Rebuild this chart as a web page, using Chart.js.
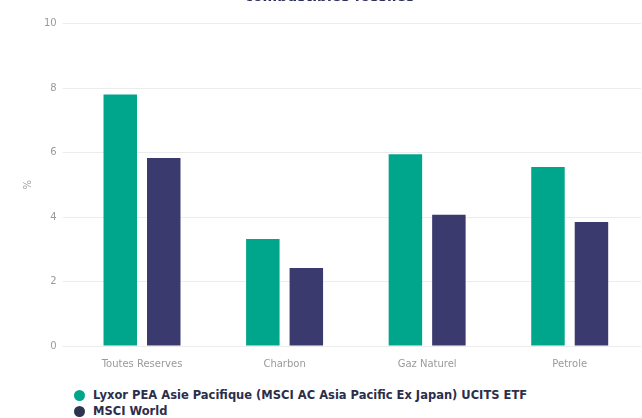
<!DOCTYPE html>
<html>
<head>
<meta charset="utf-8">
<script src="https://cdn.jsdelivr.net/npm/chart.js@4/dist/chart.umd.min.js"></script>
<style>
  html, body { margin: 0; padding: 0; background: #fff; overflow: hidden; width: 642px; height: 418px; }
  #wrap { position: absolute; left: 0; top: -28px; width: 656px; height: 402px; }
  #legend { position: absolute; left: 74px; top: 387px; font-family: "DejaVu Sans", sans-serif; font-weight: bold; font-size: 11.5px; color: #2c2e4a; }
  .item { display: flex; align-items: center; height: 16px; white-space: nowrap; }
  .dot { width: 11px; height: 11px; border-radius: 50%; margin-right: 8px; }
</style>
</head>
<body>
<div id="wrap"><canvas id="chart"></canvas></div>
<div id="legend"></div>
<script>
(function () {
  "use strict";

  var TITLE = ["Exposition aux réserves de", "combustibles fossiles"];
  var CATEGORIES = ["Toutes Reserves", "Charbon", "Gaz Naturel", "Petrole"];
  var SERIES_NAMES = [
    "Lyxor PEA Asie Pacifique (MSCI AC Asia Pacific Ex Japan) UCITS ETF",
    "MSCI World"
  ];
  var FUND_VALUES = [7.8, 3.32, 5.95, 5.55];
  var WORLD_VALUES = [5.83, 2.42, 4.07, 3.85];
  var Y_TICKS = [0, 2, 4, 6, 8, 10];

  var COLORS = ["#00a68c", "#3b3a6e"];
  var DOT_COLORS = ["#00a68c", "#2e3450"];
  var FONT = "'DejaVu Sans', sans-serif";

  function $(id) { return document.getElementById(id); }

  /* ── Legend ───────────────────────────────── */

  function renderLegend() {
    var html = "";
    SERIES_NAMES.forEach(function (name, i) {
      html += '<div class="item"><span class="dot" style="background:' + DOT_COLORS[i] + '"></span>' + name + '</div>';
    });
    $("legend").innerHTML = html;
  }

  /* ── Chart ────────────────────────────────── */

  function renderChart() {
    new Chart($("chart"), {
      type: "bar",
      data: {
        labels: CATEGORIES,
        datasets: [
          { label: SERIES_NAMES[0], data: FUND_VALUES, backgroundColor: COLORS[0] },
          { label: SERIES_NAMES[1], data: WORLD_VALUES, backgroundColor: COLORS[1] }
        ]
      },
      options: {
        responsive: true,
        maintainAspectRatio: false,
        animation: false,
        layout: { padding: { left: 18, right: 15, top: 0, bottom: 0 } },
        datasets: {
          bar: { categoryPercentage: 0.61, barPercentage: 0.77 }
        },
        scales: {
          x: {
            grid: { display: false },
            border: { display: false },
            ticks: { color: "#9a9a9a", font: { family: FONT, size: 10 }, padding: 4 }
          },
          y: {
            min: 0,
            max: 10,
            afterBuildTicks: function (axis) {
              axis.ticks = Y_TICKS.map(function (v) { return { value: v }; });
            },
            grid: { color: "#ececec", tickLength: 8 },
            border: { display: false },
            ticks: { color: "#9a9a9a", font: { family: FONT, size: 10 }, padding: 6 },
            title: { display: true, text: "%", color: "#9a9a9a", font: { family: FONT, size: 10 } }
          }
        },
        plugins: {
          legend: { display: false },
          tooltip: { enabled: false },
          title: {
            display: true,
            text: TITLE,
            color: "#2c2e5e",
            font: { family: FONT, size: 14, weight: "bold" },
            padding: { top: 0, bottom: 18 }
          }
        }
      }
    });
  }

  renderLegend();
  renderChart();
})();
</script>
</body>
</html>
